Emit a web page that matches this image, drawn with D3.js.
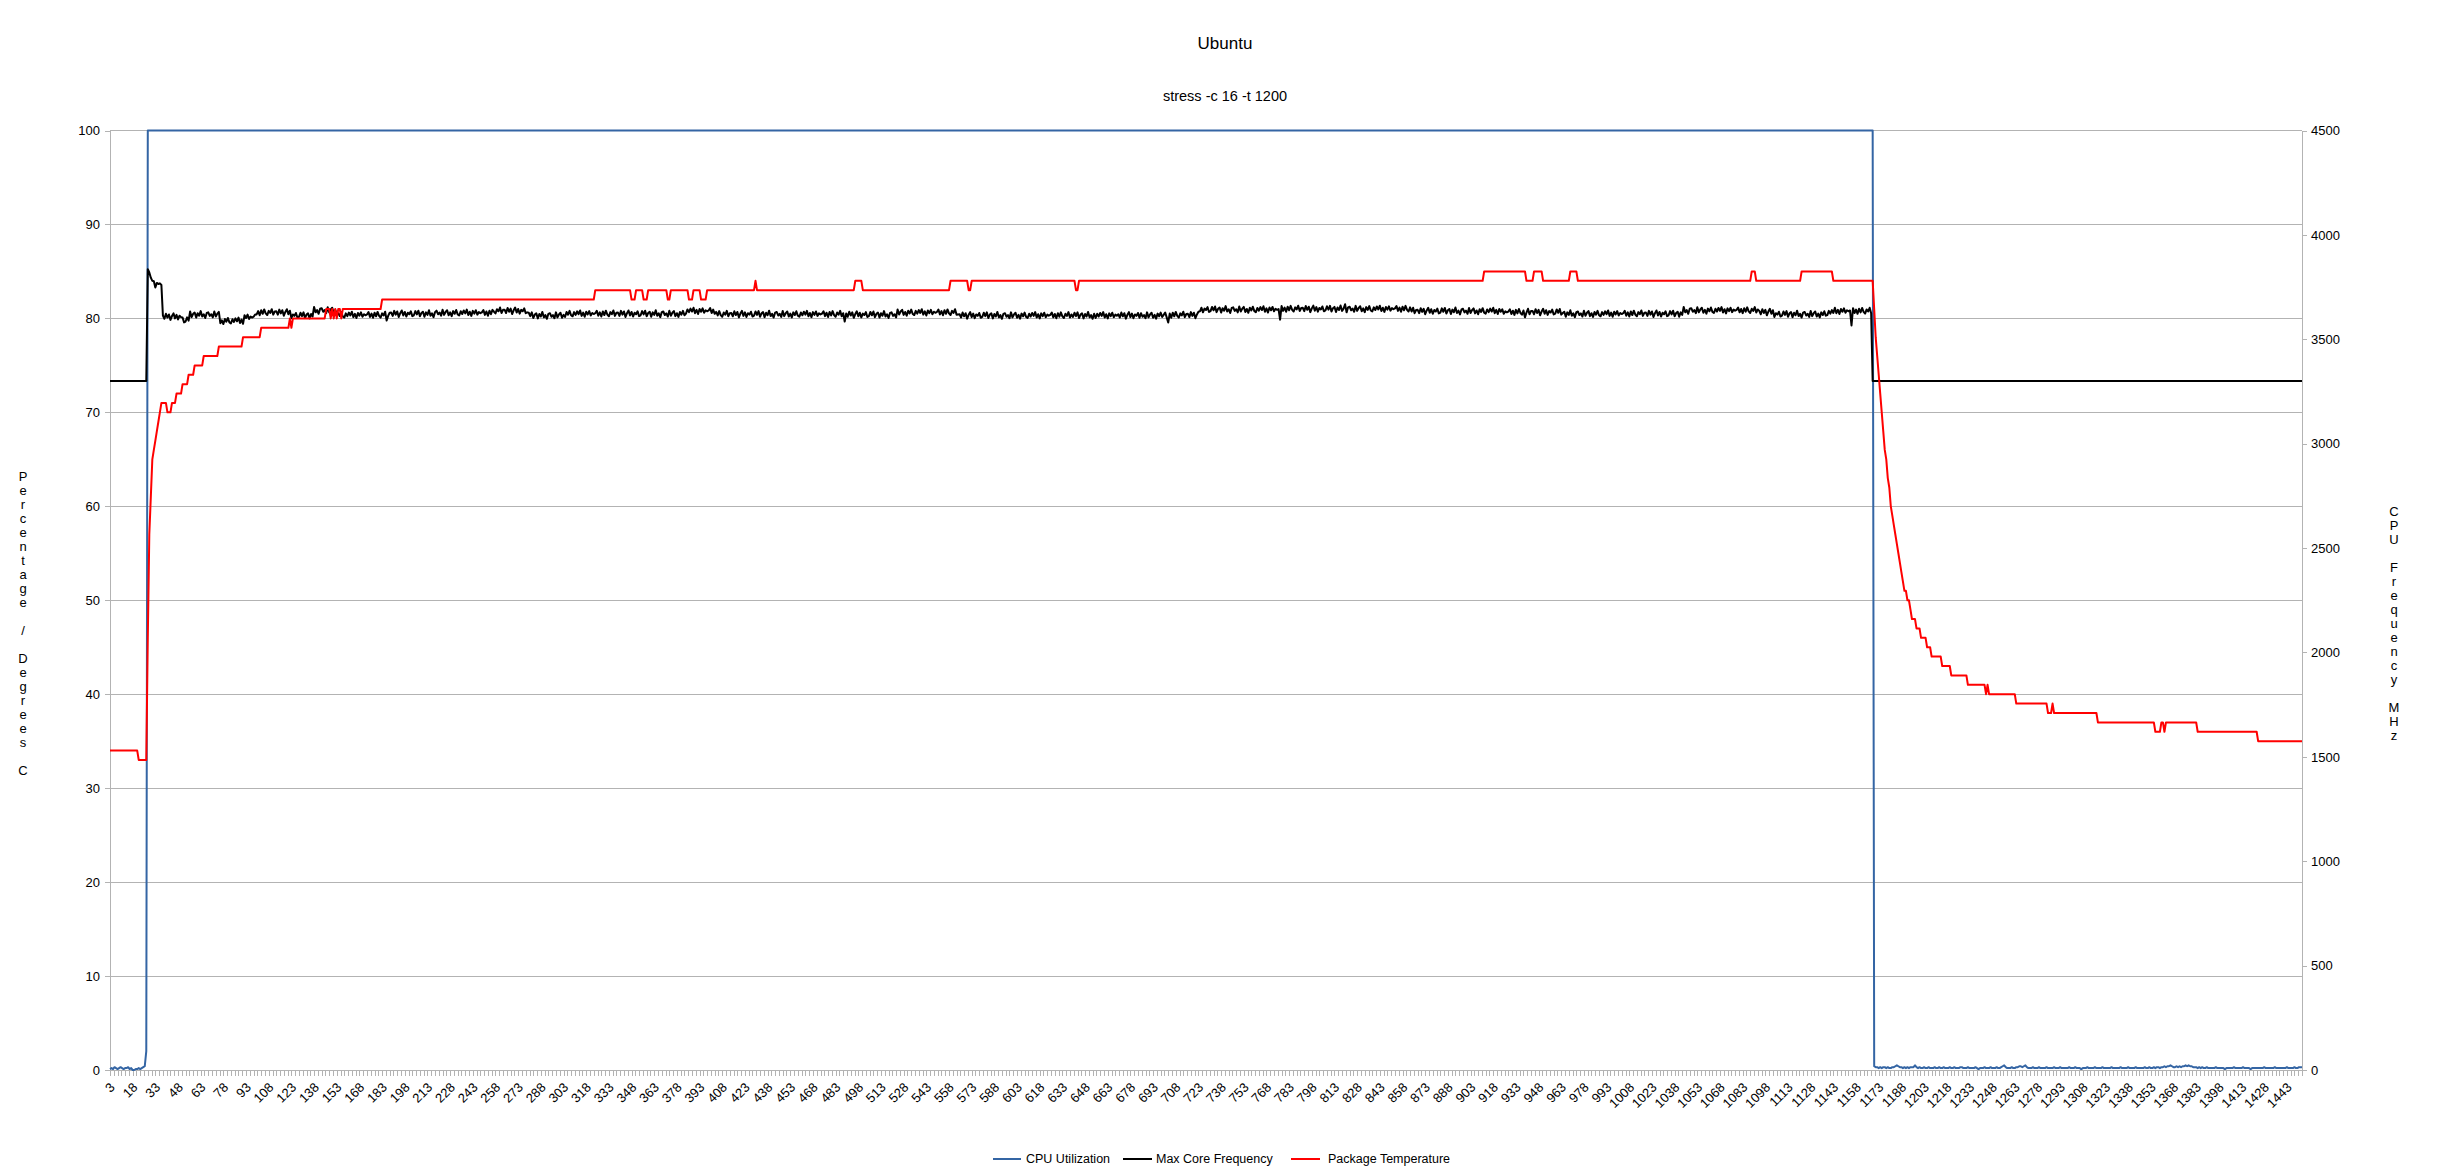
<!DOCTYPE html>
<html><head><meta charset="utf-8">
<script src="https://cdn.jsdelivr.net/npm/d3@7/dist/d3.min.js"></script>
<style>
body{margin:0;background:#fff;}
svg{display:block;font-family:"Liberation Sans",Arial,sans-serif;}
</style></head><body>
<svg id="chart" width="2452" height="1170"></svg>
<script>
// ---------------- data ----------------
const chartTitle = "Ubuntu";
const chartSubtitle = "stress -c 16 -t 1200";
const leftAxisTitle = "Percentage / Degrees C";
const rightAxisTitle = "CPU Frequency MHz";
const seriesNames = ["CPU Utilization", "Max Core Frequency", "Package Temperature"];
const firstCategory = 3;
const categoryCount = 1451;           // categories 3 .. 1453
const labelStep = 15;                 // 3, 18, 33 ... 1443
const leftTicks = [0,10,20,30,40,50,60,70,80,90,100];
const rightTicks = [0,500,1000,1500,2000,2500,3000,3500,4000,4500];

// CPU utilization (%)
const cpuIdleStart = [0.1,0.2,0.1,0.3,0.2,0.1,0.2,0.3,0.2,0.1,0.2,0.2,0.3,0.1,0.2,0.0,0.0,0.1,0.1,0.2,0.1,0.2,0.3,0.4,2.0];
const cpuLoadRun = [100, 1142];
const cpuIdleEnd = [
0.4,0.3,0.3,0.2,0.3,0.2,0.3,0.3,0.2,0.3,0.2,0.2,0.3,0.3,0.4,
0.5,0.4,0.3,0.3,0.2,0.3,0.2,0.3,0.2,0.3,0.3,0.3,0.5,0.3,0.2,
0.3,0.2,0.2,0.3,0.2,0.2,0.3,0.2,0.2,0.2,0.3,0.2,0.2,0.3,0.2,
0.2,0.3,0.2,0.2,0.2,0.3,0.2,0.2,0.3,0.2,0.2,0.2,0.3,0.3,0.2,
0.2,0.2,0.3,0.2,0.2,0.2,0.2,0.3,0.2,0.1,0.2,0.2,0.2,0.3,0.2,
0.2,0.2,0.3,0.2,0.2,0.2,0.3,0.2,0.2,0.3,0.4,0.5,0.3,0.2,0.2,
0.2,0.3,0.2,0.2,0.3,0.3,0.4,0.4,0.3,0.4,0.5,0.3,0.2,0.2,0.2,
0.3,0.2,0.2,0.2,0.3,0.2,0.2,0.2,0.2,0.3,0.2,0.2,0.2,0.2,0.3,
0.2,0.2,0.2,0.3,0.2,0.2,0.2,0.2,0.2,0.3,0.2,0.2,0.2,0.3,0.2,
0.2,0.2,0.1,0.2,0.2,0.2,0.3,0.2,0.2,0.2,0.2,0.3,0.2,0.2,0.2,
0.2,0.3,0.2,0.2,0.2,0.2,0.2,0.3,0.2,0.2,0.2,0.2,0.2,0.3,0.2,
0.2,0.2,0.2,0.3,0.2,0.2,0.2,0.2,0.3,0.2,0.2,0.2,0.2,0.2,0.3,
0.2,0.2,0.3,0.2,0.2,0.3,0.2,0.3,0.3,0.2,0.3,0.3,0.4,0.3,0.4,
0.4,0.5,0.4,0.3,0.3,0.4,0.3,0.4,0.3,0.4,0.4,0.5,0.4,0.5,0.4,
0.4,0.3,0.3,0.3,0.2,0.3,0.2,0.3,0.2,0.2,0.3,0.2,0.2,0.2,0.2,
0.2,0.3,0.2,0.2,0.2,0.2,0.2,0.1,0.2,0.2,0.2,0.2,0.2,0.3,0.2,
0.2,0.2,0.2,0.2,0.3,0.2,0.2,0.2,0.2,0.1,0.2,0.2,0.2,0.2,0.2,
0.2,0.2,0.2,0.3,0.2,0.2,0.2,0.2,0.2,0.2,0.3,0.2,0.2,0.2,0.2,
0.2,0.2,0.2,0.3,0.2,0.2,0.2,0.2,0.3,0.2,0.2,0.3,0.3,0.3];

// Max core frequency (MHz)
const freqIdleStartRun = [3300, 25];
const freqRamp = [3836,3820,3795,3780,3778,3748,3770,3765,3768,3760];
const freqLoad = [
3614,3598,3622,3604,3619,3593,3611,3624,3600,3617,3595,3613,3606,
3604,3581,3585,3605,3589,
3633,3606,3622,3628,3604,3625,3613,3635,3609,3620,3602,3626,3629,3612,3620,3605,3633,3609,3623,3631,
3577,3591,3573,3597,3584,3602,3581,3576,3596,3583,3600,3586,3604,3578,3594,3574,
3615,3602,3618,3597,3609,3604,3608,3619,
3619,3635,3615,3639,3622,3643,3624,3616,3636,3626,3644,3618,3633,3634,3618,3642,3624,3639,3613,3631,3644,3620,3637,
3601,3619,3612,3626,3603,3607,3627,3611,3629,3602,3618,3624,3600,3621,3609,
3655,3629,3640,3622,3646,3649,3632,3640,3625,3653,3629,3643,3651,3627,3641,3623,
3625,3612,3630,3609,3604,3624,3611,3628,3614,3632,3606,3622,3602,3626,3613,3629,3608,3620,3615,3619,3630,3607,3623,3603,3627,3610,3631,3612,3604,3624,3614,3632,
3590,
3612,3627,3628,3612,3636,3618,3633,3607,3625,3638,3614,3631,3609,3627,3620,3634,3611,3615,3635,3619,3637,3610,3626,3632,3608,3629,3617,3639,3613,3624,3606,3630,
3637,3620,3628,3613,3641,3617,3631,3639,3615,3629,3611,3635,3622,3640,3619,3614,3634,3621,3638,3624,3642,3616,3632,3612,3636,3623,3639,3618,3630,3625,3629,3640,3617,3633,3613,3637,3620,3641,
3632,3624,3644,3634,3652,3626,3641,3642,3626,3650,3632,3647,3621,3639,3652,3628,3645,3623,3641,3634,3648,3625,3629,
3627,3611,3629,3602,3618,3624,3600,3621,3609,3631,3605,3616,3598,3622,3625,3608,3616,3601,3629,3605,3619,3627,3603,3617,
3607,3631,3618,3636,3615,3610,3630,3617,3634,3620,3638,3612,3628,3608,3632,3619,3635,3614,3626,3621,
3625,3636,3613,3629,3609,3633,3616,3637,3618,3610,3630,3620,3638,3612,3627,
3628,3612,3636,3618,3633,3607,3625,3638,3614,3631,3609,3627,3620,3634,3611,
3615,3635,3619,3637,3610,3626,3632,3608,3629,3617,3639,3613,3624,3606,3630,
3633,3616,3624,3609,3637,3613,3627,3635,3611,3625,3607,3631,3618,3636,3615,
3623,3643,3630,3647,3633,3651,3625,3641,3621,3645,3632,3648,3627,3639,3634,3638,3649,3626,3642,3622,
3631,3614,3635,3616,3608,3628,3618,3636,3610,3625,
3626,3610,3634,3616,3631,3605,3623,3636,3612,3629,3607,3625,3618,3632,3609,
3613,3633,3617,3635,3608,3624,3630,3606,3627,3615,3637,3611,3622,3604,3628,
3631,3614,3622,3607,3635,3611,3625,3633,3609,3623,3605,3629,3616,3634,3613,
3608,3628,3615,3632,3618,3636,3610,3626,3606,3630,3617,3633,3612,3624,3619,
3623,3634,3611,3627,3607,3631,3614,3635,3616,3608,3628,3618,3636,3610,3625,
3585,
3624,3608,3632,3614,3629,3603,3621,3634,3610,3627,3605,3623,3616,3630,3607,
3611,3631,3615,3633,3606,3622,3628,3604,3625,3613,3635,3609,3620,3602,3626,
3629,3612,3620,3605,
3643,3619,3633,3641,3617,3631,3613,3637,3624,3642,3621,
3616,3636,3623,3640,3626,3644,3618,3634,3614,3638,3625,3641,3620,3632,3627,
3631,3642,3619,3635,3615,3639,3622,3643,3624,3616,3636,3626,3644,3618,
3619,
3620,3604,3628,3610,3625,3599,3617,3630,3606,3623,3601,3619,3612,3626,3603,
3607,3627,3611,3629,3602,3618,3624,3600,3621,3609,3631,3605,3616,3598,3622,
3625,3608,3616,3601,3629,3605,3619,3627,3603,3617,3599,3623,3610,3628,3607,
3602,3622,3609,3626,3612,3630,3604,3620,3600,3624,3611,3627,3606,3618,3613,
3617,3628,3605,3621,3601,3625,3608,3629,3610,3602,3622,3612,3630,3604,3619,
3607,3627,3611,3629,3602,3618,3624,3600,3621,3609,3631,3605,3616,3598,3622,
3602,3622,3609,3626,3612,3630,3604,3620,3600,3624,3611,3627,3606,3618,3613,
3620,3604,3628,3610,3625,3599,3617,3630,3606,3623,3601,3619,3612,3626,3603,
3625,3608,3616,3601,3629,3605,3619,3627,3603,3617,3599,3623,3610,3628,3607,
3617,3628,3605,
3580,
3623,3603,3627,3610,3631,3612,3604,3624,3614,3632,3606,3621,
3622,3606,3630,3612,3627,3601,3619,3632,
3634,3651,3629,3647,3640,3654,3631,
3635,3655,3639,3657,3630,3646,3652,3628,3649,3637,3659,3633,3644,3626,3650,
3653,3636,3644,3629,3657,3633,3647,3655,3631,3645,3627,3651,3638,3656,3635,
3630,3650,3637,3654,3640,3658,3632,3648,3628,3652,3639,3655,3634,3646,3641,
3645,
3594,
3659,3636,3652,3632,3656,3639,3660,3641,3633,3653,3643,3661,3635,3650,
3651,3635,3659,3641,3656,3630,3648,3661,3637,3654,3632,3650,3643,3657,3634,
3638,3658,3642,3660,3633,3649,3655,3631,3652,3640,3662,3636,3647,
3668,
3629,3653,
3656,3639,3647,3632,3660,3636,3650,3658,3634,3648,3630,3654,3641,3659,3638,
3633,3653,3640,3657,3643,3661,3635,3651,3631,3655,3642,3658,3637,3649,3644,
3648,3659,3636,3652,3632,3656,3639,3660,3641,3633,3653,
3633,3651,3625,3640,
3641,3625,3649,3631,3646,3620,3638,3651,3627,3644,3622,3640,3633,3647,3624,
3628,3648,3632,3650,3623,3639,3645,3621,3642,3630,3652,3626,3637,3619,3643,
3646,3629,3637,3622,3650,3626,3640,3648,3624,3638,3620,3644,3631,3649,3628,
3623,3643,3630,3647,3633,3651,3625,3641,3621,3645,3632,
3643,3622,3634,3629,3633,3644,3621,3637,3617,3641,3624,3645,3626,3618,3638,
3605,
3628,3646,3620,3635,
3636,3620,3644,3626,3641,3615,3633,3646,3622,3639,3617,3635,3628,3642,3619,
3623,3643,3627,3645,3618,
3626,3632,3608,3629,3617,3639,3613,3624,3606,3630,
3633,3616,3624,3609,3637,3613,3627,3635,3611,3625,3607,3631,3618,3636,3615,
3610,3630,3617,3634,3620,3638,3612,3628,3608,3632,3619,3635,3614,3626,3621,
3625,3636,3613,3629,3609,3633,3616,3637,3618,3610,3630,3620,3638,3612,3627,
3628,3612,3636,3618,3633,3607,3625,3638,3614,3631,3609,3627,3620,3634,3611,
3615,3635,3619,3637,3610,3626,3632,3608,3629,3617,
3655,3629,3640,3622,3646,
3649,3632,3640,3625,3653,3629,3643,3651,3627,3641,3623,3647,3634,3652,3631,
3626,3646,3633,3650,3636,3654,3628,3644,3624,3648,3635,3651,3630,3642,3637,
3641,3652,3629,3645,3625,3649,3632,3653,3634,3626,3646,3636,3654,3628,3643,
3636,3620,3644,3626,3641,3615,3633,3646,3622,3639,
3607,3625,3618,3632,3609,
3613,3633,3617,3635,3608,3624,3630,3606,3627,3615,3637,3611,3622,3604,3628,
3631,3614,3622,3607,3635,3611,3625,3633,3609,3623,3605,3629,3616,3634,3613,
3616,3636,3623,3640,3626,
3651,3625,3641,3621,3645,3632,3648,3627,3639,3634,3638,
3566,
3649,3626,3642,3622,3646,3629,3650,3631,3623,3643,3633,3651,3625];
const freqIdleEndRun = [3300, 285];

// Package temperature (deg C) as [value, number of samples]
const tempRuns = [
[34,19],[33,6],[46,1],[57,1],[61,1],[65,1],[66,1],[67,1],[68,1],[69,1],[70,1],
[71,4],[70,3],[71,3],[72,4],[73,4],[74,4],[75,6],[76,10],[77,16],[78,12],[79,19],
[80,1],[79,1],[80,22],[81,3],[80,1],[81,1],[80,1],[81,1],[80,1],[81,2],[80,1],[81,26],
[82,141],[83,24],[82,3],[83,5],[82,3],[83,13],[82,2],[83,12],[82,3],[83,5],[82,4],
[83,32],[84,1],[83,65],[84,5],[83,58],[84,12],[83,2],[84,69],[83,2],[84,268],
[85,28],[84,5],[85,6],[84,18],[85,5],[84,115],[85,3],[84,30],[85,21],[84,27],
[81,1],[78,1],[76,1],[74,1],[72,1],[70,1],[68,1],[66,1],[65,1],[63,1],[62,1],[60,1],
[59,1],[58,1],[57,1],[56,1],[55,1],[54,1],[53,1],[52,1],[51,2],[50,2],[49,1],[48,3],
[47,3],[46,4],[45,3],[44,7],[43,6],[42,11],[41,12],[40,1],[41,1],[40,18],[39,21],
[38,3],[39,1],[38,29],[37,38],[36,4],[37,2],[36,1],[37,21],[36,40],[35,30]];

// ---------------- build series ----------------
const fillRun = ([v, n]) => Array(n).fill(v);
const categories = d3.range(firstCategory, firstCategory + categoryCount);
const cpu = [...cpuIdleStart, ...fillRun(cpuLoadRun), ...cpuIdleEnd];
const freq = [...fillRun(freqIdleStartRun), ...freqRamp, ...freqLoad, ...fillRun(freqIdleEndRun)];
const temp = tempRuns.flatMap(fillRun);

// ---------------- layout ----------------
const svg = d3.select("#chart");
const L = 110, R = 2302, T = 130.5, B = 1070;
const gridColor = "#b3b3b3";
const colors = ["#3465a4", "#000000", "#ff0000"];

const x = d3.scaleLinear().domain([firstCategory, firstCategory + categoryCount - 1]).range([L, R]);
const yL = d3.scaleLinear().domain([0, 100]).range([B, T]);
const yR = d3.scaleLinear().domain([0, 4500]).range([B, T]);

// titles
svg.append("text").attr("x", 1225).attr("y", 49).attr("text-anchor", "middle")
  .style("font-size", "17px").text(chartTitle);
svg.append("text").attr("x", 1225).attr("y", 101).attr("text-anchor", "middle")
  .style("font-size", "14.5px").text(chartSubtitle);

// grid
svg.append("g").selectAll("line").data(leftTicks).join("line")
  .attr("x1", L).attr("x2", R).attr("y1", d => yL(d)).attr("y2", d => yL(d))
  .attr("stroke", gridColor).attr("stroke-width", 1).attr("shape-rendering", "crispEdges");

function styleAxis(g) {
  g.select(".domain").attr("stroke", gridColor).attr("shape-rendering", "crispEdges");
  g.selectAll(".tick line").attr("stroke", gridColor).attr("shape-rendering", "crispEdges");
  g.selectAll(".tick text").attr("fill", "#000").style("font-size", "13px")
    .style("font-family", '"Liberation Sans",Arial,sans-serif');
}

// left axis
svg.append("g").attr("transform", `translate(${L},0)`)
  .call(d3.axisLeft(yL).tickValues(leftTicks).tickSize(5).tickPadding(5).tickSizeOuter(0).tickFormat(d3.format("d")))
  .call(styleAxis);
// right axis
svg.append("g").attr("transform", `translate(${R},0)`)
  .call(d3.axisRight(yR).tickValues(rightTicks).tickSize(5).tickPadding(4).tickSizeOuter(0).tickFormat(d3.format("d")))
  .call(styleAxis);
// bottom minor ticks
svg.append("g").attr("transform", `translate(0,${B})`)
  .call(d3.axisBottom(x).tickValues(d3.range(firstCategory, firstCategory + categoryCount, labelStep / 6))
    .tickSize(6).tickFormat("").tickSizeOuter(0))
  .call(styleAxis);
// bottom labels
const labelCats = categories.filter((c, i) => i % labelStep === 0);
svg.append("g").attr("transform", `translate(0,${B})`)
  .call(d3.axisBottom(x).tickValues(labelCats).tickSize(6).tickFormat(d3.format("d")).tickSizeOuter(0))
  .call(styleAxis)
  .call(g => g.selectAll(".tick text")
    .attr("x", 0).attr("y", 0).attr("dy", "0.35em")
    .attr("transform", "translate(2,15) rotate(-45)")
    .style("text-anchor", "end"));

// axis titles (stacked characters)
function stacked(chars, cx, cy) {
  const t = svg.append("text").attr("text-anchor", "middle").style("font-size", "13px");
  const n = chars.length;
  chars.forEach((ch, k) => {
    t.append("tspan").attr("x", cx).attr("y", cy + (k - (n - 1) / 2) * 14 + 4.7)
      .text(ch === " " ? "\u00a0" : ch);
  });
}
stacked(leftAxisTitle.split(""), 23, 623);
stacked(rightAxisTitle.split(""), 2394, 623);

// lines
const plot = svg.append("g");
const lineL = d3.line().x((d, i) => x(categories[i])).y(d => yL(d));
const lineR = d3.line().x((d, i) => x(categories[i])).y(d => yR(d));
plot.append("path").datum(cpu).attr("d", lineL).attr("fill", "none")
  .attr("stroke", colors[0]).attr("stroke-width", 2).attr("stroke-linejoin", "round");
plot.append("path").datum(freq).attr("d", lineR).attr("fill", "none")
  .attr("stroke", colors[1]).attr("stroke-width", 2).attr("stroke-linejoin", "round");
plot.append("path").datum(temp).attr("d", lineL).attr("fill", "none")
  .attr("stroke", colors[2]).attr("stroke-width", 2).attr("stroke-linejoin", "round");

// legend
const legendItems = [
  {x1: 993, x2: 1021, tx: 1026},
  {x1: 1123, x2: 1152, tx: 1156},
  {x1: 1291, x2: 1320, tx: 1328}
];
const lg = svg.append("g");
seriesNames.forEach((name, k) => {
  const it = legendItems[k];
  lg.append("line").attr("x1", it.x1).attr("x2", it.x2).attr("y1", 1159).attr("y2", 1159)
    .attr("stroke", colors[k]).attr("stroke-width", 2);
  lg.append("text").attr("x", it.tx).attr("y", 1159).attr("dy", "0.35em")
    .style("font-size", "12.5px").text(name);
});
</script>
</body></html>
